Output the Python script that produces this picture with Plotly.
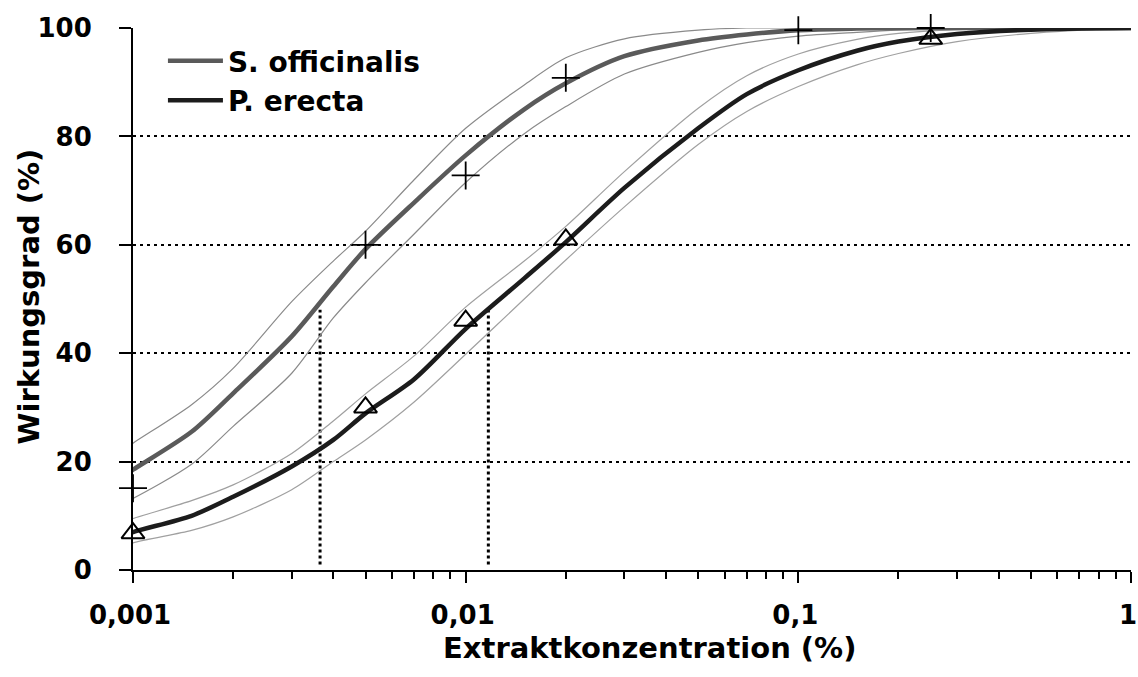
import plotly.graph_objects as go

# concentrations (%) at which the fitted curves were read
conc = [0.00092, 0.001, 0.0015, 0.002, 0.003, 0.004, 0.005, 0.007, 0.01, 0.015, 0.02,
        0.03, 0.05, 0.07, 0.1, 0.15, 0.2, 0.3, 0.5, 1.0]

# S. officinalis: fit and confidence band
sof_fit = [17.0, 18.5, 25.5, 32.6, 43.1, 52.3, 59.2, 67.8, 76.5, 85.0, 89.8,
           94.8, 97.7, 98.8, 99.6, 99.9, 100, 100, 100, 100]
sof_upper = [21.8, 23.4, 30.5, 37.2, 49.5, 57.0, 62.5, 72.0, 81.5, 89.5, 94.5,
             98.0, 99.6, 100, 100, 100, 100, 100, 100, 100]
sof_lower = [12.2, 13.2, 19.5, 26.5, 36.3, 46.5, 53.0, 62.0, 71.5, 80.5, 85.5,
             91.5, 95.5, 97.3, 98.5, 99.2, 99.6, 99.9, 100, 100]

# P. erecta: fit and confidence band
per_fit = [6.1, 7.0, 10.0, 13.5, 19.1, 24.0, 28.9, 35.2, 44.5, 53.8, 60.5,
           70.5, 81.5, 87.8, 92.2, 95.8, 97.5, 98.9, 99.7, 100]
per_upper = [8.7, 9.5, 12.8, 15.7, 21.5, 27.5, 32.5, 39.5, 48.5, 57.0, 63.4,
             73.5, 85.2, 91.2, 95.2, 97.9, 99.0, 99.7, 100, 100]
per_lower = [3.9, 5.0, 7.3, 9.8, 14.8, 20.0, 24.0, 31.0, 39.8, 50.0, 57.2,
             67.0, 78.5, 84.6, 89.2, 93.2, 95.3, 97.5, 99.0, 100]

# measured points
sof_x = [0.001, 0.005, 0.01, 0.02, 0.1, 0.25]
sof_y = [15.1, 60.0, 72.8, 90.8, 99.6, 100.0]
per_x = [0.001, 0.005, 0.01, 0.02, 0.25]
per_y = [6.8, 30.0, 46.0, 61.0, 98.0]

# EC50 markers (x position, height of dotted line)
ec50_x = [0.00365, 0.0117]
ec50_bottom = [1, 1]
ec50_top = [48, 48]

x_tickvals = [0.001, 0.01, 0.1, 1]
x_ticktext = ["0,001", "0,01", "0,1", "1"]
x_minorvals = [m * d for d in (0.001, 0.01, 0.1) for m in range(2, 10)]

FONT = "DejaVu Sans"

fig = go.Figure()

# EC50 dotted lines
for ex, eb, et in zip(ec50_x, ec50_bottom, ec50_top):
    fig.add_trace(go.Scatter(x=[ex, ex], y=[eb, et], mode="lines", showlegend=False,
                             line=dict(color="black", width=3, dash="3px,3px")))

# confidence bands
for band, col in [(sof_upper, "#8a8a8a"), (sof_lower, "#8a8a8a"),
                  (per_upper, "#a0a0a0"), (per_lower, "#a0a0a0")]:
    fig.add_trace(go.Scatter(x=conc, y=band, mode="lines", showlegend=False,
                             line=dict(color=col, width=1.2, shape="spline", smoothing=0.8),
                             cliponaxis=False))

# fitted curves
fig.add_trace(go.Scatter(x=conc, y=sof_fit, mode="lines", name="S. officinalis",
                         line=dict(color="#5a5a5a", width=4.5, shape="spline", smoothing=0.8),
                         cliponaxis=False))
fig.add_trace(go.Scatter(x=conc, y=per_fit, mode="lines", name="P. erecta",
                         line=dict(color="#1c1c1c", width=4.5, shape="spline", smoothing=0.8),
                         cliponaxis=False))

# data points
fig.add_trace(go.Scatter(x=sof_x, y=sof_y, mode="markers", showlegend=False, cliponaxis=False,
                         marker=dict(symbol="cross-thin", size=20, line=dict(color="black", width=1.8))))
fig.add_trace(go.Scatter(x=per_x, y=per_y, mode="markers", showlegend=False, cliponaxis=False,
                         marker=dict(symbol="triangle-up-open", size=20, color="black",
                                     line=dict(color="black", width=2))))

fig.update_layout(
    width=1138, height=677,
    margin=dict(l=133, r=7, t=28, b=107),
    plot_bgcolor="white", paper_bgcolor="white",
    font=dict(family=FONT, size=26, color="black", weight="bold"),
    legend=dict(x=0.03, y=0.985, xanchor="left", yanchor="top", bgcolor="rgba(0,0,0,0)",
                font=dict(family=FONT, size=28, weight="bold"), itemwidth=55,
                tracegroupgap=0),
    annotations=[
        dict(text="Extraktkonzentration (%)", xref="paper", yref="paper",
             x=(649 - 133) / 998, y=-0.143, xanchor="center", yanchor="middle",
             showarrow=False, font=dict(family=FONT, size=29, weight="bold")),
        dict(text="Wirkungsgrad (%)", xref="paper", yref="paper", textangle=-90,
             x=-0.104, y=0.505, xanchor="center", yanchor="middle",
             showarrow=False, font=dict(family=FONT, size=29, weight="bold")),
    ],
)

fig.update_xaxes(
    type="log", range=[-3, 0], automargin=False,
    tickmode="array", tickvals=x_tickvals, ticktext=x_ticktext,
    ticks="outside", ticklen=11, tickwidth=2, tickcolor="black",
    minor=dict(tickmode="array", tickvals=x_minorvals, ticks="outside", ticklen=7,
               tickwidth=1.5, tickcolor="black", showgrid=False),
    showline=True, linewidth=2, linecolor="black", showgrid=False, zeroline=False,
    ticklabelstandoff=10, ticklabelshift=-3, ticklabeloverflow="allow",
)

fig.update_yaxes(
    range=[0, 100], dtick=20, automargin=False,
    ticks="outside", ticklen=12, tickwidth=2, tickcolor="black",
    showline=True, linewidth=2, linecolor="black", zeroline=False,
    showgrid=True, gridcolor="black", gridwidth=2, griddash="3px,4px",
    ticklabelstandoff=22,
)

# the page body has a default margin; remove it so the figure fills the window
fig.write_html("out.html", config={"displayModeBar": False},
               post_script="document.body.style.margin='0px';")
